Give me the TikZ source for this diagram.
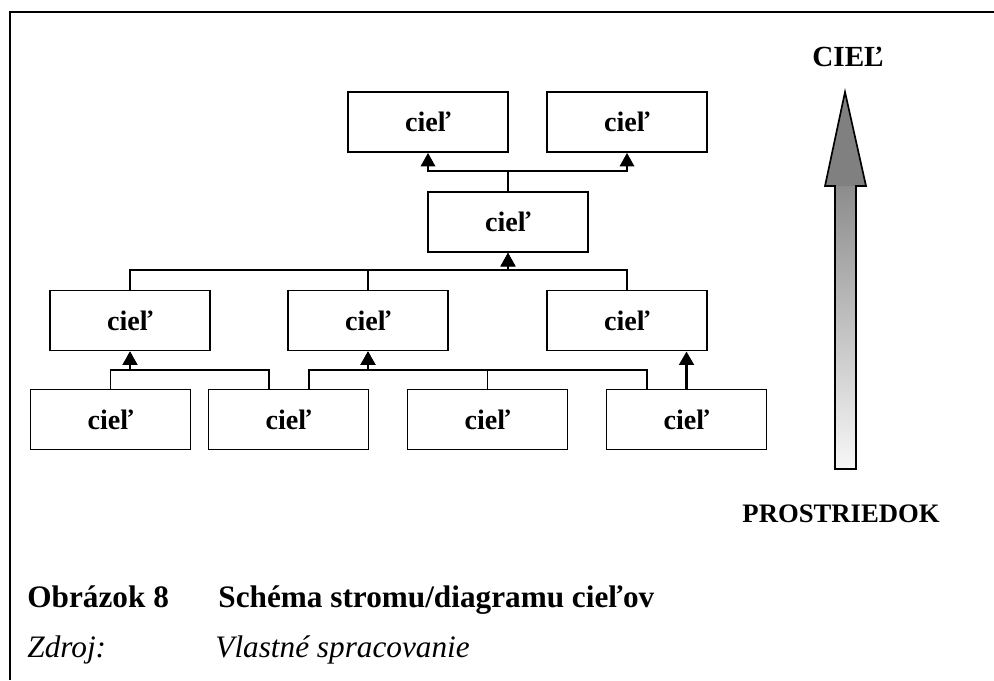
\documentclass[tikz,border=0pt]{standalone}
\usepackage{fontspec}
\setmainfont{Liberation Serif}
\usetikzlibrary{arrows.meta}

\begin{document}
\begin{tikzpicture}[
    x=0.48pt, y=-0.48pt,
    goal/.style={draw, line width=0.9pt, minimum width=76.8pt, minimum height=28.8pt,
        inner sep=0pt, font=\fontsize{13.5}{16}\selectfont\bfseries},
    link/.style={line width=0.9pt},
    caption/.style={anchor=base west, inner sep=0pt, font=\fontsize{15}{18}\selectfont\bfseries},
    source/.style={anchor=base west, inner sep=0pt, font=\fontsize{15}{18}\selectfont\itshape},
    >={Triangle[width=7pt,length=6.5pt]}
]
\useasboundingbox (0,0) rectangle (994,680);

% Rám
\draw[line width=1pt] (10,680) -- (10,12) -- (994,12);

% Úroveň 1 (vrchol)
\node[goal] (t1) at (428,122) {cieľ};
\node[goal] (t2) at (627,122) {cieľ};

% Úroveň 2
\node[goal] (m) at (508,222) {cieľ};

% Úroveň 3
\node[goal] (a) at (130,320.5) {cieľ};
\node[goal] (b) at (368,320.5) {cieľ};
\node[goal] (c) at (627,320.5) {cieľ};

% Úroveň 4
\node[goal] (d) at (110.5,419.5) {cieľ};
\node[goal] (e) at (288.5,419.5) {cieľ};
\node[goal] (f) at (487.5,419.5) {cieľ};
\node[goal] (g) at (686.5,419.5) {cieľ};

% --- Spojenia ---
\draw[link, ->] (m.north) -- ++(0,-20) -| (t1.south);
\draw[link, ->] (m.north) -- ++(0,-20) -| (t2.south);

\draw[link, ->] (a.north) -- ++(0,-20) -| (m.south);
\draw[link, ->] (b.north) -- ++(0,-20) -| (m.south);
\draw[link, ->] (c.north) -- ++(0,-20) -| (m.south);

\draw[link, ->] (d.north) -- ++(0,-19) -| (a.south);
\draw[link, ->] ([xshift=-9.4pt]e.north) -- ++(0,-19) -| (a.south);

\draw[link, ->] ([xshift=9.8pt]e.north) -- ++(0,-19) -| (b.south);
\draw[link, ->] (f.north) -- ++(0,-19) -| (b.south);
\draw[link, ->] ([xshift=-19pt]g.north) -- ++(0,-19) -| (b.south);

\draw[line width=1.5pt, ->] (g.north) -- (g.north |- c.south);

% --- Šípka cieľ / prostriedok ---
\shade[top color=gray!90, bottom color=black!3] (835,186) rectangle (856,469);
\fill[gray] (845,92) -- (866,186) -- (825,186) -- cycle;
\draw[line width=0.8pt] (845,92) -- (866,186) -- (856,186) -- (856,469)
    -- (835,469) -- (835,186) -- (825,186) -- cycle;

\node[font=\fontsize{14}{16}\selectfont\bfseries] (top) at (848,57) {CIEĽ};
\node[font=\fontsize{12.8}{15}\selectfont\bfseries] (bottom) at (841,514) {PROSTRIEDOK};

% --- Popis ---
\node[caption] (cap1) at (27,607) {Obrázok 8};
\node[caption] (cap2) at (218,607) {Schéma stromu/diagramu cieľov};
\node[source] (src1) at (27,657) {Zdroj:};
\node[source] (src2) at (215,657) {Vlastné spracovanie};

\end{tikzpicture}
\end{document}
